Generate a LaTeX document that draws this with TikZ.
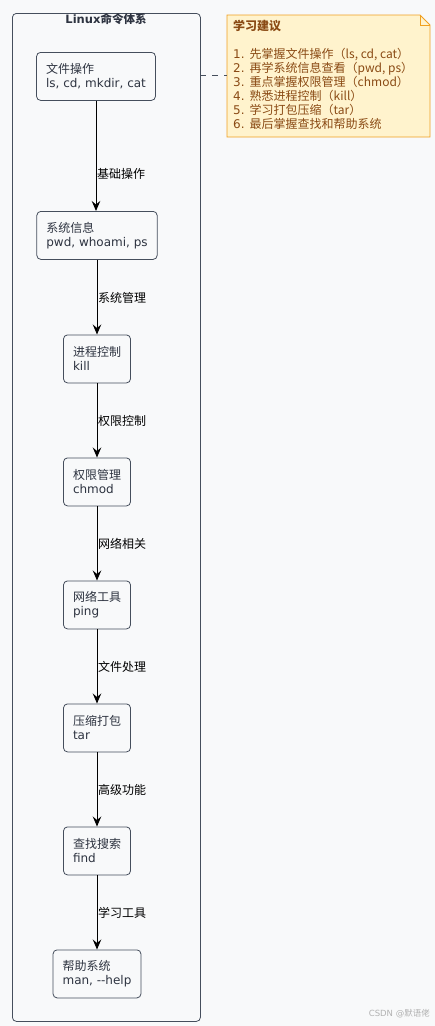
\documentclass[tikz,border=0pt]{standalone}
\usepackage{fontspec}
\setmainfont{DejaVu Sans}
\newfontfamily\cjk{Noto Sans CJK SC}
\usetikzlibrary{arrows.meta,shapes.misc}
\definecolor{bgc}{HTML}{F8F9FA}
\definecolor{linec}{HTML}{454E5C}
\definecolor{txtc}{HTML}{2D3340}
\definecolor{notefill}{HTML}{FFF3CD}
\definecolor{noteline}{HTML}{F0A020}
\definecolor{notetxt}{HTML}{8A4A14}
\tikzset{
  stepbox/.style={draw=linec, fill=bgc, rounded corners=4pt, line width=0.8pt,
    align=left, anchor=north, inner xsep=9.5pt, inner ysep=0pt, minimum height=48pt,
    text=txtc, font=\fontsize{12}{14}\selectfont},
  flow/.style={draw=black, line width=0.9pt, -{Stealth[length=10pt,width=8.5pt,inset=3.5pt]}},
  flowlbl/.style={anchor=west, inner sep=1pt, text=black, font=\fontsize{12}{14}\selectfont},
}
\begin{document}
\begin{tikzpicture}[x=1pt,y=-1pt]
\useasboundingbox[fill=bgc] (0,0) rectangle (435,1026);
% container
\node[draw=linec, line width=0.8pt, rounded corners=4pt, minimum width=188pt, minimum height=1008pt, anchor=north west, inner sep=0pt] (cont) at (12,13) {};
\node[font=\fontsize{11.5}{14}\selectfont\bfseries, text=txtc, anchor=center] (title) at (106,19.5) {Linux\cjk{命令体系}};
% nodes
\node[stepbox] (n1) at (96,52) {\cjk{文件操作}\\ls, cd, mkdir, cat};
\node[stepbox] (n2) at (97,211) {\cjk{系统信息}\\pwd, whoami, ps};
\node[stepbox] (n3) at (97,334.5) {\cjk{进程控制}\\kill};
\node[stepbox] (n4) at (97,457.5) {\cjk{权限管理}\\chmod};
\node[stepbox] (n5) at (97,580.5) {\cjk{网络工具}\\ping};
\node[stepbox] (n6) at (97,703.5) {\cjk{压缩打包}\\tar};
\node[stepbox] (n7) at (97,826.5) {\cjk{查找搜索}\\find};
\node[stepbox] (n8) at (97,949.5) {\cjk{帮助系统}\\man, -{}-help};
% arrows
\draw[flow] (n1.south) -- (n1.south |- n2.north);
\node[flowlbl] (l1) at (96,174) {\cjk{基础操作}};
\draw[flow] (n2.south) -- (n3.north);
\node[flowlbl] (l2) at (97,297.5) {\cjk{系统管理}};
\draw[flow] (n3.south) -- (n4.north);
\node[flowlbl] (l3) at (97,420.5) {\cjk{权限控制}};
\draw[flow] (n4.south) -- (n5.north);
\node[flowlbl] (l4) at (97,543.5) {\cjk{网络相关}};
\draw[flow] (n5.south) -- (n6.north);
\node[flowlbl] (l5) at (97,666.5) {\cjk{文件处理}};
\draw[flow] (n6.south) -- (n7.north);
\node[flowlbl] (l6) at (97,789.5) {\cjk{高级功能}};
\draw[flow] (n7.south) -- (n8.north);
\node[flowlbl] (l7) at (97,912.5) {\cjk{学习工具}};
% note
\coordinate (nA) at (227,15);
\coordinate (nB) at (420,15);
\coordinate (nC) at (430,25);
\coordinate (nD) at (430,137);
\coordinate (nE) at (227,137);
\draw[draw=noteline, fill=notefill, line width=0.8pt] (nA) -- (nB) -- (nC) -- (nD) -- (nE) -- cycle;
\draw[draw=noteline, line width=0.8pt] (nB) -- (420,25) -- (nC);
\node[anchor=north west, inner sep=0pt, align=left, text=notetxt, font=\fontsize{12}{14}\selectfont] (note) at (233,20)
 {\textbf{\cjk{学习建议}}\\[14pt]
 1. \cjk{先掌握文件操作（}ls, cd, cat\cjk{）}\\
 2. \cjk{再学系统信息查看（}pwd, ps\cjk{）}\\
 3. \cjk{重点掌握权限管理（}chmod\cjk{）}\\
 4. \cjk{熟悉进程控制（}kill\cjk{）}\\
 5. \cjk{学习打包压缩（}tar\cjk{）}\\
 6. \cjk{最后掌握查找和帮助系统}};
\coordinate (dashend) at (227,75);
\draw[draw=linec, line width=0.8pt, dash pattern=on 6pt off 6pt] (200,75) -- (dashend);
% watermark
\node[anchor=east, inner sep=0pt, text=black!30, font=\fontsize{8.5}{10}\selectfont] (wm) at (430,1014) {CSDN @\cjk{默语佬}};
\end{tikzpicture}
\end{document}
